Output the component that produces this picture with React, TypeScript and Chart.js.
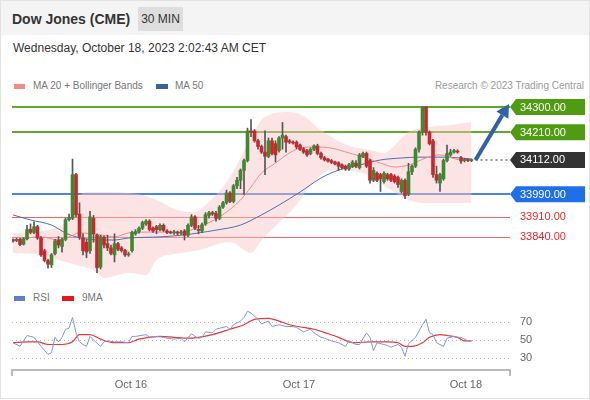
import React, { useEffect, useRef } from 'react';
import { Chart, registerables } from 'chart.js';

Chart.register(...registerables);

const FONT = '"Liberation Sans", Arial, Helvetica, sans-serif';

// ---- Candles (30 min) ----
const opens = [
  33828, 33826, 33830, 33813, 33832, 33866, 33855, 33875, 33835, 33790,
  33755, 33740, 33780, 33828, 33805, 33830, 33900, 33905, 34060, 33920,
  33835, 33820, 33790, 33905, 33845, 33732, 33838, 33815, 33800, 33775,
  33815, 33800, 33790, 33775, 33790, 33850, 33858, 33870, 33885, 33895,
  33870, 33875, 33865, 33880, 33860, 33856, 33853, 33856, 33852, 33860,
  33845, 33880, 33910, 33865, 33860, 33885, 33915, 33925, 33922, 33905,
  33945, 33960, 33995, 33965, 34020, 34040, 34075, 34110, 34215, 34215,
  34180, 34160, 34140, 34125, 34180, 34170, 34145, 34190, 34195, 34180,
  34175, 34175, 34165, 34152, 34145, 34135, 34150, 34162, 34135, 34120,
  34115, 34110, 34105, 34102, 34095, 34090, 34080, 34090, 34100, 34085,
  34125, 34135, 34110, 34040, 34065, 34060, 34035, 34060, 34060, 34055,
  34050, 34000, 34040, 33990, 34070, 34090, 34150, 34210, 34300, 34210,
  34180, 34060, 34030, 34045, 34110, 34130, 34140, 34142, 34120, 34110,
  34112, 34110,
];
const highs = [
  33832, 33835, 33834, 33836, 33880, 33885, 33892, 33880, 33840, 33795,
  33760, 33780, 33830, 33840, 33835, 33905, 33920, 34115, 34065, 33960,
  33850, 33830, 33930, 33915, 33850, 33845, 33842, 33845, 33810, 33850,
  33820, 33805, 33795, 33785, 33860, 33865, 33875, 33895, 33900, 33900,
  33875, 33880, 33885, 33885, 33865, 33860, 33862, 33860, 33862, 33865,
  33885, 33918, 33915, 33880, 33888, 33925, 33930, 33930, 33930, 33950,
  33965, 34005, 34000, 34025, 34050, 34080, 34115, 34225, 34255, 34220,
  34185, 34165, 34215, 34190, 34190, 34180, 34195, 34245, 34200, 34185,
  34180, 34180, 34168, 34156, 34150, 34155, 34166, 34168, 34140, 34125,
  34118, 34114, 34108, 34106, 34098, 34094, 34100, 34110, 34110, 34135,
  34140, 34140, 34115, 34085, 34070, 34065, 34070, 34065, 34065, 34060,
  34055, 34045, 34045, 34100, 34095, 34155, 34215, 34302, 34302, 34215,
  34185, 34090, 34065, 34115, 34165, 34150, 34150, 34148, 34125, 34118,
  34116, 34116,
];
const lows = [
  33820, 33822, 33808, 33810, 33828, 33850, 33850, 33830, 33770, 33750,
  33728, 33730, 33775, 33800, 33785, 33825, 33895, 33900, 33910, 33830,
  33775, 33765, 33780, 33820, 33712, 33725, 33800, 33790, 33775, 33750,
  33790, 33785, 33770, 33770, 33785, 33845, 33852, 33865, 33880, 33860,
  33855, 33850, 33860, 33858, 33850, 33850, 33848, 33846, 33848, 33828,
  33840, 33875, 33865, 33850, 33855, 33880, 33905, 33915, 33895, 33900,
  33940, 33955, 33960, 33960, 34010, 34010, 33990, 34105, 34195, 34175,
  34150, 34135, 34060, 34120, 34130, 34105, 34140, 34150, 34140, 34170,
  34168, 34152, 34145, 34135, 34125, 34130, 34145, 34130, 34115, 34108,
  34104, 34099, 34094, 34075, 34080, 34075, 34075, 34085, 34085, 34080,
  34120, 34085, 34030, 34035, 34035, 34000, 34030, 34040, 34035, 34030,
  34015, 33995, 33975, 33985, 34060, 34085, 34140, 34200, 34200, 34165,
  34050, 34030, 34000, 34040, 34105, 34125, 34136, 34136, 34100, 34105,
  34106, 34106,
];
const closes = [
  33825, 33830, 33812, 33832, 33865, 33855, 33875, 33835, 33775, 33755,
  33742, 33775, 33825, 33810, 33830, 33900, 33905, 34060, 33918, 33840,
  33790, 33785, 33910, 33850, 33730, 33840, 33810, 33800, 33780, 33815,
  33795, 33790, 33775, 33778, 33855, 33858, 33870, 33890, 33895, 33865,
  33860, 33865, 33880, 33862, 33855, 33853, 33856, 33852, 33855, 33845,
  33880, 33910, 33870, 33862, 33882, 33918, 33925, 33920, 33905, 33945,
  33960, 33995, 33965, 34020, 34040, 34075, 34110, 34215, 34210, 34180,
  34160, 34140, 34125, 34180, 34135, 34130, 34190, 34200, 34175, 34175,
  34172, 34158, 34150, 34140, 34130, 34150, 34162, 34135, 34120, 34112,
  34108, 34103, 34098, 34090, 34085, 34080, 34095, 34105, 34090, 34130,
  34135, 34090, 34040, 34075, 34040, 34045, 34065, 34045, 34040, 34035,
  34025, 34040, 33985, 34070, 34090, 34150, 34210, 34300, 34210, 34170,
  34060, 34040, 34060, 34110, 34135, 34140, 34145, 34140, 34108, 34112,
  34110, 34112,
];

// ---- Indicators: [candle index, value] ----
const ma20 = [
  [0, 33828], [8, 33839], [13, 33828], [16, 33839], [19, 33853], [25, 33846],
  [29, 33839], [33, 33853], [39, 33856], [48, 33856], [53, 33874], [59, 33910],
  [65, 33970], [68, 34016], [71, 34066], [75, 34101], [79, 34137], [82, 34154],
  [86, 34158], [91, 34154], [96, 34137], [101, 34119], [105, 34101], [109, 34087],
  [113, 34094], [118, 34119], [122, 34130], [128, 34112], [131, 34112],
];
const ma50 = [
  [0, 33917], [5, 33899], [11, 33881], [15, 33853], [18, 33839], [25, 33828],
  [29, 33828], [33, 33835], [42, 33839], [49, 33846], [53, 33853], [58, 33863],
  [65, 33881], [71, 33917], [76, 33952], [82, 33998], [88, 34048], [93, 34076],
  [99, 34094], [105, 34112], [111, 34119], [116, 34122], [122, 34122], [128, 34119],
  [131, 34115],
];
const bandUpper = [
  [0, 33853], [10, 33863], [14, 33881], [17, 33906], [19, 33984], [22, 33998],
  [33, 33995], [37, 33988], [41, 33970], [47, 33934], [52, 33927], [55, 33952],
  [58, 33988], [62, 34051], [68, 34193], [71, 34254], [74, 34275], [79, 34282],
  [83, 34268], [88, 34218], [96, 34162], [102, 34147], [106, 34137], [110, 34176],
  [113, 34211], [119, 34229], [125, 34236], [131, 34247],
];
const bandLower = [
  [0, 33782], [8, 33775], [13, 33757], [18, 33739], [23, 33721], [26, 33693],
  [33, 33711], [38, 33704], [41, 33757], [48, 33782], [53, 33792], [62, 33821],
  [68, 33782], [71, 33828], [76, 33888], [81, 33952], [84, 34005], [91, 34076],
  [100, 34066], [108, 34005], [113, 33970], [119, 33959], [131, 33959],
];
const rsi = [
  [0, 47], [2, 43], [4, 55], [6, 53], [8, 43], [10, 34], [11, 36], [12, 53],
  [13, 48], [14, 53], [15, 62], [16, 63], [17, 75], [18, 58], [19, 48], [20, 45],
  [21, 43], [22, 54], [23, 50], [25, 43], [26, 48], [27, 49], [29, 48], [31, 48],
  [33, 47], [34, 54], [35, 54], [38, 56], [39, 53], [41, 54], [43, 53], [44, 52],
  [46, 51], [48, 52], [49, 48], [51, 57], [52, 54], [53, 52], [54, 53], [55, 59],
  [57, 58], [58, 62], [60, 64], [61, 65], [62, 62], [63, 67], [65, 71], [66, 75],
  [67, 82], [68, 80], [70, 73], [71, 68], [73, 71], [74, 65], [76, 67], [78, 65],
  [80, 65], [81, 64], [83, 59], [85, 62], [86, 58], [88, 53], [89, 52], [91, 49],
  [93, 47], [95, 43], [96, 49], [98, 45], [99, 45], [101, 58], [102, 53], [103, 38],
  [104, 47], [106, 45], [107, 44], [108, 42], [110, 45], [111, 42], [112, 32],
  [113, 46], [115, 53], [117, 67], [118, 73], [119, 58], [120, 56], [121, 47],
  [122, 45], [123, 43], [124, 52], [126, 54], [127, 53], [128, 53], [130, 49],
  [131, 49],
];
const rsiMa9 = [
  [0, 47], [4, 48], [7, 48], [10, 45], [14, 45], [17, 48], [19, 56], [22, 56],
  [25, 51], [29, 47], [33, 47], [36, 51], [42, 54], [46, 53], [50, 52], [53, 53],
  [57, 56], [62, 62], [66, 67], [69, 73], [73, 74], [76, 71], [79, 67], [83, 64],
  [86, 62], [90, 57], [93, 53], [96, 48], [98, 47], [102, 48], [107, 48], [110, 47],
  [112, 43], [114, 43], [117, 47], [119, 53], [122, 56], [124, 55], [127, 53],
  [129, 49], [131, 49],
];

// ---- Levels and ticks ----
const levelValues = [34300, 34210, 34112, 33990, 33910, 33840];
const levelLabels = ['34300.00', '34210.00', '34112.00', '33990.00', '33910.00', '33840.00'];
const dayTickIndex = [33.7, 81.7, 129.4];
const dayTickLabels = ['Oct 16', 'Oct 17', 'Oct 18'];
const rsiTicks = [30, 50, 70];

// ---- Scale ranges ----
const X_MIN = -0.29;
const X_MAX = 142.0;
const PRICE_MIN = 33686;
const PRICE_MAX = 34339;
const RSI_MIN = 16.7;
const RSI_MAX = 88.9;

const GREEN = '#3c8a2e';
const RED = '#c8282c';

// style for each level (by position)
const levelStyle = [
  { line: '#62a82a', width: 2, tag: '#4f9c12', kind: 'tag' },
  { line: '#62a82a', width: 2, tag: '#4f9c12', kind: 'tag' },
  { line: '#777777', width: 1.5, tag: '#333333', kind: 'last' },
  { line: '#4a86e0', width: 2, tag: '#1f6fe8', kind: 'tag' },
  { line: '#f06464', width: 1, tag: '#e3262b', kind: 'text' },
  { line: '#f06464', width: 1, tag: '#e3262b', kind: 'text' },
];

const pts = (arr: number[][]) => arr.map(([x, y]) => ({ x, y }));

function drawTag(ctx: CanvasRenderingContext2D, x0: number, x1: number, yc: number, fill: string, text: string) {
  const h = 16;
  ctx.beginPath();
  ctx.moveTo(x0, yc);
  ctx.lineTo(x0 + 6, yc - h / 2);
  ctx.lineTo(x1, yc - h / 2);
  ctx.lineTo(x1, yc + h / 2);
  ctx.lineTo(x0 + 6, yc + h / 2);
  ctx.closePath();
  ctx.fillStyle = fill;
  ctx.fill();
  ctx.fillStyle = '#ffffff';
  ctx.font = `11px ${FONT}`;
  ctx.textBaseline = 'middle';
  ctx.textAlign = 'left';
  ctx.fillText(text, x0 + 10, yc + 0.5);
}

const priceOverlay = {
  id: 'priceOverlay',
  beforeDatasetsDraw(chart: any) {
    const { ctx, chartArea, scales } = chart;
    const y = scales.y;
    const x = scales.x;
    ctx.save();
    levelValues.forEach((v, i) => {
      const st = levelStyle[i];
      const yy = Math.round(y.getPixelForValue(v)) + (st.width === 1 ? 0.5 : 0);
      ctx.beginPath();
      ctx.lineWidth = st.width;
      ctx.strokeStyle = st.line;
      if (st.kind === 'last') {
        ctx.setLineDash([2, 3]);
        ctx.moveTo(x.getPixelForValue(closes.length - 1) + 4, yy);
      } else {
        ctx.setLineDash([]);
        ctx.moveTo(chartArea.left, yy);
      }
      ctx.lineTo(chartArea.right, yy);
      ctx.stroke();
    });
    ctx.restore();
  },
  afterDraw(chart: any) {
    const { ctx, chartArea, scales } = chart;
    const y = scales.y;
    const x = scales.x;
    ctx.save();
    ctx.setLineDash([]);
    levelValues.forEach((v, i) => {
      const st = levelStyle[i];
      const yy = y.getPixelForValue(v);
      if (st.kind === 'text') {
        ctx.fillStyle = st.tag;
        ctx.font = `11px ${FONT}`;
        ctx.textBaseline = 'middle';
        ctx.textAlign = 'left';
        ctx.fillText(levelLabels[i], chartArea.right + 10, yy + 0.5);
      } else {
        drawTag(ctx, chartArea.right, chartArea.right + 75, yy, st.tag, levelLabels[i]);
      }
    });
    // forecast arrow
    const last = closes.length - 1;
    const sx = x.getPixelForValue(last) + 4;
    const sy = y.getPixelForValue(closes[last]);
    const tx = chartArea.right - 1;
    const ty = y.getPixelForValue(levelValues[0]) - 3;
    const ang = Math.atan2(ty - sy, tx - sx);
    const headLen = 13;
    const headW = 7;
    const bx = tx - headLen * Math.cos(ang);
    const by = ty - headLen * Math.sin(ang);
    ctx.strokeStyle = '#2f63a8';
    ctx.fillStyle = '#2f63a8';
    ctx.lineWidth = 4;
    ctx.beginPath();
    ctx.moveTo(sx, sy);
    ctx.lineTo(bx, by);
    ctx.stroke();
    ctx.beginPath();
    ctx.moveTo(tx, ty);
    ctx.lineTo(bx + headW * Math.sin(ang), by - headW * Math.cos(ang));
    ctx.lineTo(bx - headW * Math.sin(ang), by + headW * Math.cos(ang));
    ctx.closePath();
    ctx.fill();
    ctx.restore();
  },
};

const rsiOverlay = {
  id: 'rsiOverlay',
  afterDraw(chart: any) {
    const { ctx, chartArea } = chart;
    ctx.save();
    ctx.strokeStyle = '#bbbbbb';
    ctx.lineWidth = 2;
    ctx.beginPath();
    ctx.moveTo(chartArea.left, chartArea.bottom);
    ctx.lineTo(chartArea.left, chartArea.bottom + 6);
    ctx.moveTo(chartArea.right, chartArea.bottom);
    ctx.lineTo(chartArea.right, chartArea.bottom + 6);
    ctx.stroke();
    ctx.restore();
  },
};

export default function App() {
  const priceRef = useRef<HTMLCanvasElement | null>(null);
  const rsiRef = useRef<HTMLCanvasElement | null>(null);

  useEffect(() => {
    Chart.defaults.font.family = FONT;
    const priceChart = new Chart(priceRef.current as HTMLCanvasElement, {
      type: 'bar',
      data: {
        datasets: [
          {
            type: 'line',
            label: 'bandLower',
            data: pts(bandLower),
            borderWidth: 0,
            borderColor: 'rgba(0,0,0,0)',
            pointRadius: 0,
            fill: false,
            cubicInterpolationMode: 'monotone',
            order: 10,
          },
          {
            type: 'line',
            label: 'bandUpper',
            data: pts(bandUpper),
            borderWidth: 0,
            borderColor: 'rgba(0,0,0,0)',
            pointRadius: 0,
            fill: '-1',
            backgroundColor: 'rgba(250,195,195,0.45)',
            cubicInterpolationMode: 'monotone',
            order: 9,
          },
          {
            type: 'line',
            label: 'MA 50',
            data: pts(ma50),
            borderWidth: 1,
            borderColor: '#4a6fb0',
            pointRadius: 0,
            cubicInterpolationMode: 'monotone',
            order: 5,
          },
          {
            type: 'line',
            label: 'MA 20',
            data: pts(ma20),
            borderWidth: 1,
            borderColor: '#f08a8a',
            pointRadius: 0,
            cubicInterpolationMode: 'monotone',
            order: 4,
          },
          {
            type: 'bar',
            label: 'wicks',
            data: highs.map((h, i) => ({ x: i, y: [lows[i], h] })),
            backgroundColor: '#555555',
            barThickness: 1,
            grouped: false,
            order: 2,
          },
          {
            type: 'bar',
            label: 'bodies',
            data: opens.map((o, i) => ({ x: i, y: [o, closes[i]] })),
            backgroundColor: (c: any) =>
              closes[c.dataIndex] >= opens[c.dataIndex] ? GREEN : RED,
            barThickness: 3,
            minBarLength: 1,
            grouped: false,
            order: 1,
          },
        ] as any,
      },
      options: {
        animation: false,
        responsive: false,
        maintainAspectRatio: false,
        layout: { padding: { left: 12, right: 80, top: 0, bottom: 0 } },
        plugins: { legend: { display: false }, tooltip: { enabled: false } },
        scales: {
          x: { type: 'linear', min: X_MIN, max: X_MAX, display: false, offset: false },
          y: { type: 'linear', min: PRICE_MIN, max: PRICE_MAX, display: false },
        },
      } as any,
      plugins: [priceOverlay],
    });

    const rsiChart = new Chart(rsiRef.current as HTMLCanvasElement, {
      type: 'line',
      data: {
        datasets: [
          {
            label: 'RSI',
            data: pts(rsi),
            borderColor: '#7f98dc',
            borderWidth: 1,
            pointRadius: 0,
          },
          {
            label: '9MA',
            data: pts(rsiMa9),
            borderColor: '#e53935',
            borderWidth: 1.2,
            pointRadius: 0,
            cubicInterpolationMode: 'monotone',
          },
        ] as any,
      },
      options: {
        animation: false,
        responsive: false,
        maintainAspectRatio: false,
        layout: { padding: { left: 12, right: 0, top: 5, bottom: 4 } },
        plugins: { legend: { display: false }, tooltip: { enabled: false } },
        scales: {
          x: {
            type: 'linear',
            min: X_MIN,
            max: X_MAX,
            afterBuildTicks: (s: any) => {
              s.ticks = dayTickIndex.map((v) => ({ value: v }));
            },
            afterFit: (s: any) => {
              s.paddingLeft = 0;
              s.paddingRight = 0;
              s.height = 26;
            },
            ticks: {
              callback: (_v: any, i: number) => dayTickLabels[i],
              font: { size: 11, family: FONT },
              color: '#666666',
              padding: 8,
              maxRotation: 0,
              autoSkip: false,
            },
            grid: { display: false, drawTicks: false },
            border: { display: true, color: '#bbbbbb', width: 2 },
          },
          y: {
            type: 'linear',
            position: 'right',
            min: RSI_MIN,
            max: RSI_MAX,
            afterBuildTicks: (s: any) => {
              s.ticks = rsiTicks.map((v) => ({ value: v }));
            },
            afterFit: (s: any) => {
              s.width = 80;
              s.paddingTop = 0;
              s.paddingBottom = 0;
            },
            ticks: {
              font: { size: 11, family: FONT },
              color: '#666666',
              padding: 10,
            },
            grid: { color: '#bbbbbb', drawTicks: false, lineWidth: 1 },
            border: { display: false, dash: [1, 3] },
          },
        },
      } as any,
      plugins: [rsiOverlay],
    });

    return () => {
      priceChart.destroy();
      rsiChart.destroy();
    };
  }, []);

  const abs = (l: number, t: number): React.CSSProperties => ({ position: 'absolute', left: l, top: t });
  const legendText: React.CSSProperties = { fontSize: 10, color: '#777', lineHeight: '12px', whiteSpace: 'nowrap' };

  return (
    <div style={{ position: 'absolute', left: 0, top: 0, width: 590, height: 400, background: '#fff', fontFamily: FONT, overflow: 'hidden' }}>
      <div style={{ ...abs(0, 0), width: 590, height: 35, background: '#f4f4f4' }} />
      <div style={{ ...abs(12, 10), fontSize: 14, fontWeight: 'bold', color: '#333', lineHeight: '18px', whiteSpace: 'nowrap' }}>Dow Jones (CME)</div>
      <div style={{ ...abs(138, 7), width: 45, height: 24, background: '#dedede', fontSize: 12, color: '#333', lineHeight: '24px', textAlign: 'center', whiteSpace: 'nowrap' }}>30 MIN</div>
      <div style={{ ...abs(13, 40), fontSize: 12, color: '#333', lineHeight: '16px', whiteSpace: 'nowrap' }}>Wednesday, October 18, 2023 2:02:43 AM CET</div>

      <div style={{ ...abs(14, 84), width: 11, height: 5, background: '#f28a8a' }} />
      <div style={{ ...abs(33, 80), ...legendText }}>MA 20 + Bollinger Bands</div>
      <div style={{ ...abs(156, 84), width: 12, height: 5, background: '#3c5f9e' }} />
      <div style={{ ...abs(175, 80), ...legendText }}>MA 50</div>
      <div style={{ position: 'absolute', right: 6, top: 80, ...legendText, color: '#999' }}>Research © 2023 Trading Central</div>

      <canvas ref={priceRef} width={590} height={184} style={{ ...abs(0, 96), width: 590, height: 184 }} />

      <div style={{ ...abs(14, 296), width: 11, height: 5, background: '#5b7fd6' }} />
      <div style={{ ...abs(33, 292), ...legendText }}>RSI</div>
      <div style={{ ...abs(62, 296), width: 12, height: 5, background: '#e8151b' }} />
      <div style={{ ...abs(82, 292), ...legendText }}>9MA</div>

      <canvas ref={rsiRef} width={590} height={100} style={{ ...abs(0, 300), width: 590, height: 100 }} />

      <div style={{ position: 'absolute', left: 0, top: 0, width: 590, height: 399, boxSizing: 'border-box', border: '1px solid #e2e2e2', pointerEvents: 'none' }} />
    </div>
  );
}
